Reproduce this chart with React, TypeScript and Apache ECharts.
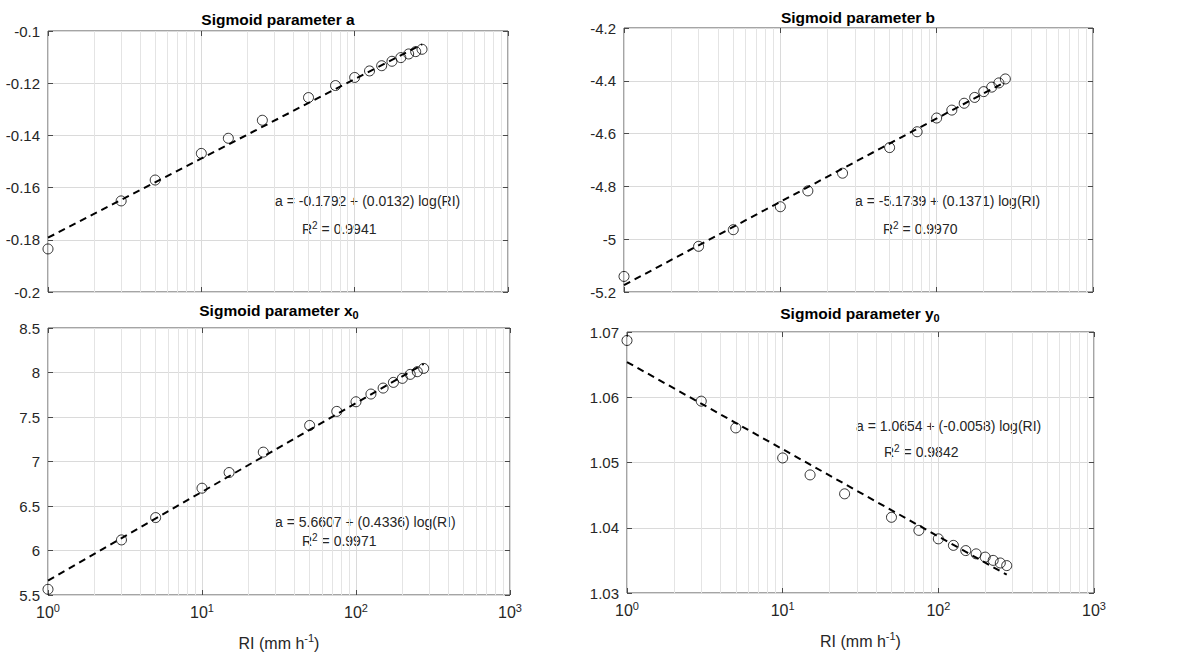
import React, { useEffect, useRef } from "react";
import * as echarts from "echarts";

// Rainfall intensity (mm h^-1)
const RI = [1, 3, 5, 10, 15, 25, 50, 75, 100, 125, 150, 175, 200, 225, 250, 275];

const paramA = [-0.1835, -0.1651, -0.1571, -0.1469, -0.1411, -0.1342, -0.1255, -0.1209, -0.1178, -0.1153, -0.1133, -0.1116, -0.1102, -0.1088, -0.1079, -0.107];
const paramB = [-5.141, -5.027, -4.964, -4.877, -4.817, -4.75, -4.653, -4.593, -4.541, -4.511, -4.485, -4.463, -4.441, -4.424, -4.408, -4.393];
const paramX0 = [5.564, 6.119, 6.37, 6.7, 6.876, 7.105, 7.405, 7.563, 7.671, 7.758, 7.825, 7.889, 7.934, 7.979, 8.009, 8.046];
const paramY0 = [1.0687, 1.0594, 1.0553, 1.0507, 1.0481, 1.0452, 1.0416, 1.0396, 1.0383, 1.0373, 1.0365, 1.036, 1.0355, 1.035, 1.0346, 1.0342];

// Fitted regression line end points (at RI = 1 and RI = 275)
const fitRI = [1, 275];
const fitA = [-0.1792, -0.1051];
const fitB = [-5.1739, -4.404];
const fitX0 = [5.6607, 8.096];
const fitY0 = [1.0654, 1.0328];

// y-axis ranges [min, max, interval]
const yA = [-0.2, -0.1, 0.02];
const yB = [-5.2, -4.2, 0.2];
const yX0 = [5.5, 8.5, 0.5];
const yY0 = [1.03, 1.07, 0.01];

// major and minor log positions
const majorX = [1, 10, 100, 1000];
const minorX = [2, 3, 4, 5, 6, 7, 8, 9, 20, 30, 40, 50, 60, 70, 80, 90, 200, 300, 400, 500, 600, 700, 800, 900];

const titles = ["Sigmoid parameter a", "Sigmoid parameter b", "Sigmoid parameter x", "Sigmoid parameter y"];
const eqLines = [
  "a = -0.1792 + (0.0132) log(RI)",
  "a = -5.1739 + (0.1371) log(RI)",
  "a = 5.6607 + (0.4336) log(RI)",
  "a = 1.0654 + (-0.0058) log(RI)",
];
const r2Values = ["0.9941", "0.9970", "0.9971", "0.9842"];

const FONT = "'Liberation Sans', Arial, Helvetica, sans-serif";
const TXT = "#262626";
const AX = "#4a4a4a";

export default function App() {
  const ref = useRef<HTMLDivElement>(null);

  useEffect(() => {
    if (!ref.current) return;
    const chart = echarts.init(ref.current, undefined, { renderer: "svg" });

    const grids = [
      { left: 48, top: 31, width: 460, height: 261 },
      { left: 624, top: 28, width: 469, height: 264 },
      { left: 48, top: 328, width: 462, height: 267 },
      { left: 627, top: 332, width: 467, height: 261 },
    ];
    const values = [paramA, paramB, paramX0, paramY0];
    const fits = [fitA, fitB, fitX0, fitY0];
    const yr = [yA, yB, yX0, yY0];

    const xAxes: any[] = [];
    const yAxes: any[] = [];

    grids.forEach((_, i) => {
      // main bottom axis
      xAxes.push({
        type: "log",
        logBase: 10,
        min: 1,
        max: 1000,
        gridIndex: i,
        position: "bottom",
        axisLine: { show: false },
        axisTick: { show: true, inside: true, length: 5, lineStyle: { color: AX } },
        splitLine: { show: true, lineStyle: { color: "#dadada", width: 1 } },
        axisLabel: {
          show: i >= 2,
          margin: 7,
          fontFamily: FONT,
          color: TXT,
          formatter: (v: number) => `{b|10}{s|${Math.round(Math.log10(v))}}`,
          rich: {
            b: { fontSize: 16, lineHeight: 20, color: TXT, fontFamily: FONT },
            s: { fontSize: 11, lineHeight: 11, verticalAlign: "top", color: TXT, fontFamily: FONT },
          },
        },
        name: i >= 2 ? "{n|RI (mm h}{s|-1}{n|)}" : "",
        nameLocation: "middle",
        nameGap: 37,
        nameTextStyle: {
          rich: {
            n: { fontSize: 16, lineHeight: 22, color: TXT, fontFamily: FONT },
            s: { fontSize: 11, lineHeight: 12, verticalAlign: "top", color: TXT, fontFamily: FONT },
          },
        },
      });
    });
    grids.forEach((_, i) => {
      // minor ticks bottom and top, major ticks top
      ["bottom", "top"].forEach((pos) => {
        xAxes.push({
          type: "log",
          logBase: 10,
          min: 1,
          max: 1000,
          gridIndex: i,
          position: pos,
          axisLine: { show: false },
          axisTick: { show: true, inside: true, length: 3, customValues: minorX, lineStyle: { color: AX } },
          splitLine: { show: false },
          axisLabel: { show: false },
        });
      });
      xAxes.push({
        type: "log",
        logBase: 10,
        min: 1,
        max: 1000,
        gridIndex: i,
        position: "top",
        axisLine: { show: false },
        axisTick: { show: true, inside: true, length: 5, customValues: majorX, lineStyle: { color: AX } },
        splitLine: { show: false },
        axisLabel: { show: false },
      });
    });

    grids.forEach((_, i) => {
      yAxes.push({
        type: "value",
        gridIndex: i,
        position: "left",
        min: yr[i][0],
        max: yr[i][1],
        interval: yr[i][2],
        axisLine: { show: false },
        axisTick: { show: true, inside: true, length: 5, lineStyle: { color: AX } },
        splitLine: { show: true, lineStyle: { color: "#dadada", width: 1 } },
        axisLabel: {
          margin: 8,
          fontSize: 15,
          fontFamily: FONT,
          color: TXT,
          formatter: (v: number) => String(parseFloat(v.toFixed(4))),
        },
      });
    });
    grids.forEach((_, i) => {
      yAxes.push({
        type: "value",
        gridIndex: i,
        position: "right",
        min: yr[i][0],
        max: yr[i][1],
        interval: yr[i][2],
        axisLine: { show: false },
        axisTick: { show: true, inside: true, length: 5, lineStyle: { color: AX } },
        splitLine: { show: false },
        axisLabel: { show: false },
      });
    });

    const series: any[] = [];
    grids.forEach((_, i) => {
      series.push({
        type: "scatter",
        xAxisIndex: i,
        yAxisIndex: i,
        data: RI.map((x, j) => [x, values[i][j]]),
        symbol: "circle",
        symbolSize: 10,
        itemStyle: { color: "rgba(0,0,0,0)", borderColor: "#000", borderWidth: 1 },
        z: 3,
        silent: true,
        markLine: {
          silent: true,
          symbol: ["none", "none"],
          label: { show: false },
          z: 1,
          lineStyle: { color: "#e4e4e4", type: "solid", width: 1 },
          data: minorX.map((v) => ({ xAxis: v })),
        },
      });
      series.push({
        type: "line",
        xAxisIndex: i,
        yAxisIndex: i,
        data: fitRI.map((x, j) => [x, fits[i][j]]),
        showSymbol: false,
        symbol: "none",
        lineStyle: { color: "#000", width: 2, type: [7, 5] },
        z: 4,
        silent: true,
      });
    });

    const titlePos = [
      [278, 19],
      [858, 17],
      [279, 310],
      [860, 313],
    ];
    const eqPos = [
      [275, 201, 302, 229],
      [855, 201, 883, 229],
      [275, 522, 302, 541],
      [856, 426, 884, 452],
    ];

    const graphics: any[] = [];
    titles.forEach((t, i) => {
      const sub = i >= 2 ? "{s|0}" : "";
      graphics.push({
        type: "text",
        x: titlePos[i][0],
        y: titlePos[i][1],
        silent: true,
        style: {
          text: `{t|${t}}${sub}`,
          align: "center",
          verticalAlign: "middle",
          rich: {
            t: { fontSize: 15.5, fontWeight: "bold", lineHeight: 20, fill: "#000", fontFamily: FONT },
            s: { fontSize: 11, fontWeight: "bold", lineHeight: 10, verticalAlign: "bottom", fill: "#000", fontFamily: FONT },
          },
        },
      });
    });
    eqLines.forEach((t, i) => {
      graphics.push({
        type: "text",
        x: eqPos[i][0],
        y: eqPos[i][1],
        silent: true,
        style: {
          text: t,
          align: "left",
          verticalAlign: "middle",
          font: `14px ${FONT}`,
          fill: TXT,
        },
      });
      graphics.push({
        type: "text",
        x: eqPos[i][2],
        y: eqPos[i][3],
        silent: true,
        style: {
          text: `{n|R}{s|2}{n| = ${r2Values[i]}}`,
          align: "left",
          verticalAlign: "middle",
          rich: {
            n: { fontSize: 14, lineHeight: 18, fill: TXT, fontFamily: FONT },
            s: { fontSize: 10, lineHeight: 10, verticalAlign: "top", fill: TXT, fontFamily: FONT },
          },
        },
      });
    });

    chart.setOption({
      animation: false,
      backgroundColor: "#fff",
      textStyle: { fontFamily: FONT },
      grid: grids.map((g) => ({ ...g, show: true, borderColor: AX, borderWidth: 1, backgroundColor: "rgba(0,0,0,0)" })),
      xAxis: xAxes,
      yAxis: yAxes,
      series,
      graphic: graphics,
    });

    return () => chart.dispose();
  }, []);

  return (
    <div
      ref={ref}
      style={{ position: "absolute", left: 0, top: 0, width: 1178, height: 657 }}
    />
  );
}
